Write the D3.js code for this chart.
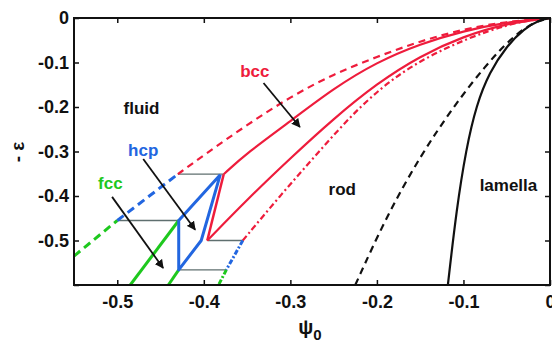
<!DOCTYPE html>
<html>
<head>
<meta charset="utf-8">
<script src="https://cdn.jsdelivr.net/npm/d3@7.9.0/dist/d3.min.js"></script>
<style>
  body { margin: 0; background: #fff; }
  svg { display: block; font-family: "Liberation Sans", Arial, sans-serif; font-weight: bold; }
</style>
</head>
<body>
<svg id="chart" width="552" height="343"></svg>
<script>
// phase boundaries, [psi0, -eps]
const fluidGreen = [[-0.55, -0.535], [-0.50, -0.455]];
const fluidBlue = [[-0.50, -0.455], [-0.43, -0.351]];
const fluidRed = [[-0.43, -0.351], [-0.40, -0.308], [-0.35, -0.240], [-0.30, -0.177], [-0.25, -0.126],
  [-0.20, -0.087], [-0.15, -0.052], [-0.10, -0.025], [-0.05, -0.008], [0, 0]];
const bccUpper = [[-0.377, -0.351], [-0.35, -0.303], [-0.30, -0.232], [-0.25, -0.158], [-0.20, -0.099],
  [-0.15, -0.058], [-0.10, -0.029], [-0.05, -0.009], [0, 0]];
const bccLower = [[-0.396, -0.50], [-0.35, -0.408], [-0.30, -0.315], [-0.25, -0.226], [-0.20, -0.147],
  [-0.15, -0.085], [-0.10, -0.041], [-0.05, -0.012], [0, 0]];
const bccRod = [[-0.355, -0.50], [-0.31, -0.395], [-0.266, -0.298], [-0.219, -0.196], [-0.17, -0.118],
  [-0.12, -0.066], [-0.07, -0.027], [-0.03, -0.006], [0, 0]];
const hcpRod = [[-0.355, -0.50], [-0.374, -0.566]];
const fccRod = [[-0.374, -0.566], [-0.383, -0.60]];
const rodLamella = [[-0.225, -0.60], [-0.19, -0.45], [-0.15, -0.31], [-0.11, -0.195], [-0.075, -0.108],
  [-0.045, -0.045], [-0.02, -0.010], [0, 0]];
const lamella = [[-0.118, -0.60], [-0.108, -0.43], [-0.097, -0.295], [-0.085, -0.195], [-0.07, -0.122],
  [-0.05, -0.063], [-0.03, -0.024], [-0.012, -0.004], [0, 0]];
const redStep = [[-0.396, -0.50], [-0.377, -0.351]];
const hcpLoop = [[-0.381, -0.352], [-0.429, -0.455], [-0.429, -0.566], [-0.403, -0.50], [-0.381, -0.352]];
const fccLeft = [[-0.429, -0.455], [-0.485, -0.60]];
const fccRight = [[-0.429, -0.566], [-0.441, -0.60]];
// horizontal tie lines: eps, psi from, psi to
const tieLines = [[-0.351, -0.43, -0.377], [-0.455, -0.50, -0.429], [-0.50, -0.396, -0.355], [-0.566, -0.429, -0.374]];

const arrows = [
  { from: [-0.331, -0.146], to: [-0.289, -0.245] },
  { from: [-0.470, -0.317], to: [-0.410, -0.476] },
  { from: [-0.506, -0.402], to: [-0.447, -0.562] }
];
const labels = [
  { text: "fluid", x: -0.472, y: -0.205, color: "#111" },
  { text: "rod", x: -0.240, y: -0.388, color: "#111" },
  { text: "lamella", x: -0.048, y: -0.379, color: "#111" },
  { text: "bcc", x: -0.341, y: -0.123, color: "#ee1c3c" },
  { text: "hcp", x: -0.470, y: -0.301, color: "#2266e0" },
  { text: "fcc", x: -0.508, y: -0.375, color: "#1ec81e" }
];
const xTicks = [-0.5, -0.4, -0.3, -0.2, -0.1, 0];
const yTicks = [0, -0.1, -0.2, -0.3, -0.4, -0.5, -0.6];

const red = "#ee1c3c", blue = "#2266e0", green = "#1ec81e";

const svg = d3.select("#chart");
const x = d3.scaleLinear().domain([-0.55, 0]).range([74, 550]);
const y = d3.scaleLinear().domain([-0.6, 0]).range([285, 18]);

svg.append("defs").append("clipPath").attr("id", "clip")
  .append("rect").attr("x", 74).attr("y", 18).attr("width", 476).attr("height", 267);

svg.select("defs").append("marker")
  .attr("id", "head").attr("viewBox", "0 0 10 10").attr("refX", 9).attr("refY", 5)
  .attr("markerWidth", 5).attr("markerHeight", 5).attr("orient", "auto")
  .append("path").attr("d", "M0,0L10,5L0,10z").attr("fill", "#111");

const line = d3.line().x(d => x(d[0])).y(d => y(d[1])).curve(d3.curveBasis);
const straight = d3.line().x(d => x(d[0])).y(d => y(d[1]));

const plot = svg.append("g").attr("clip-path", "url(#clip)");

// tie lines
plot.selectAll(".tie").data(tieLines).join("line")
  .attr("x1", d => x(d[1])).attr("x2", d => x(d[2]))
  .attr("y1", d => y(d[0])).attr("y2", d => y(d[0]))
  .attr("stroke", "#5f6f6f").attr("stroke-width", 1.3);

function draw(data, color, width, dash, gen) {
  plot.append("path").datum(data)
    .attr("d", gen || line)
    .attr("fill", "none").attr("stroke", color).attr("stroke-width", width)
    .attr("stroke-dasharray", dash || null)
    .attr("stroke-linejoin", "round");
}

draw(fluidGreen, green, 3, "8,5", straight);
draw(fluidBlue, blue, 3, "8,5", straight);
draw(fluidRed, red, 2.2, "7,5");
draw(bccUpper, red, 2.2);
draw(bccLower, red, 2.2);
draw(bccRod, red, 2.2, "6,3,2,3");
draw(hcpRod, blue, 3, "5,2,2,2", straight);
draw(fccRod, green, 3, "5,2,2,2", straight);
draw(rodLamella, "#111", 2.2, "7,5");
draw(lamella, "#111", 2.2);
draw(fccLeft, green, 3, null, straight);
draw(fccRight, green, 3, null, straight);
draw(hcpLoop, blue, 3, null, straight);
draw(redStep, red, 2.5, null, straight);

// arrows
svg.selectAll(".arrow").data(arrows).join("line")
  .attr("x1", d => x(d.from[0])).attr("y1", d => y(d.from[1]))
  .attr("x2", d => x(d.to[0])).attr("y2", d => y(d.to[1]))
  .attr("stroke", "#111").attr("stroke-width", 1.8)
  .attr("marker-end", "url(#head)");

svg.selectAll(".lbl").data(labels).join("text")
  .attr("x", d => x(d.x)).attr("y", d => y(d.y))
  .attr("text-anchor", "middle").attr("dominant-baseline", "middle")
  .attr("fill", d => d.color).attr("font-size", 17)
  .text(d => d.text);

// axes on all four sides, ticks inward
const fmt = d => d === 0 ? "0" : d.toFixed(1);
const gx = svg.append("g").attr("transform", "translate(0,285)")
  .call(d3.axisBottom(x).tickValues(xTicks).tickSizeInner(-5).tickSizeOuter(0).tickPadding(10).tickFormat(fmt));
const gxTop = svg.append("g").attr("transform", "translate(0,18)")
  .call(d3.axisTop(x).tickValues(xTicks).tickSizeInner(-5).tickSizeOuter(0).tickFormat(""));
const gy = svg.append("g").attr("transform", "translate(74,0)")
  .call(d3.axisLeft(y).tickValues(yTicks).tickSizeInner(-5).tickSizeOuter(0).tickPadding(5)
    .tickFormat(d => d === -0.6 ? "" : fmt(d)));
const gyRight = svg.append("g").attr("transform", "translate(550,0)")
  .call(d3.axisRight(y).tickValues(yTicks).tickSizeInner(-5).tickSizeOuter(0).tickFormat(""));

[gx, gxTop, gy, gyRight].forEach(g => {
  g.select(".domain").remove();
  g.selectAll(".tick line").attr("stroke", "#111").attr("stroke-width", 1.5);
  g.selectAll("text").attr("font-size", 18).attr("font-weight", "bold")
    .attr("font-family", "'Liberation Sans', Arial, sans-serif").attr("fill", "#111");
});

svg.append("rect").attr("x", 74).attr("y", 18).attr("width", 476).attr("height", 267)
  .attr("fill", "none").attr("stroke", "#111").attr("stroke-width", 2);

// axis titles
const xt = svg.append("text").attr("x", 310).attr("y", 334)
  .attr("text-anchor", "middle").attr("font-size", 20).attr("fill", "#111");
xt.append("tspan").text("ψ");
xt.append("tspan").attr("dy", 6).attr("font-size", 15).text("0");

svg.append("text").attr("transform", "translate(24,152) rotate(-90)")
  .attr("text-anchor", "middle").attr("font-size", 19).attr("fill", "#111")
  .text("- ε");
</script>
</body>
</html>
